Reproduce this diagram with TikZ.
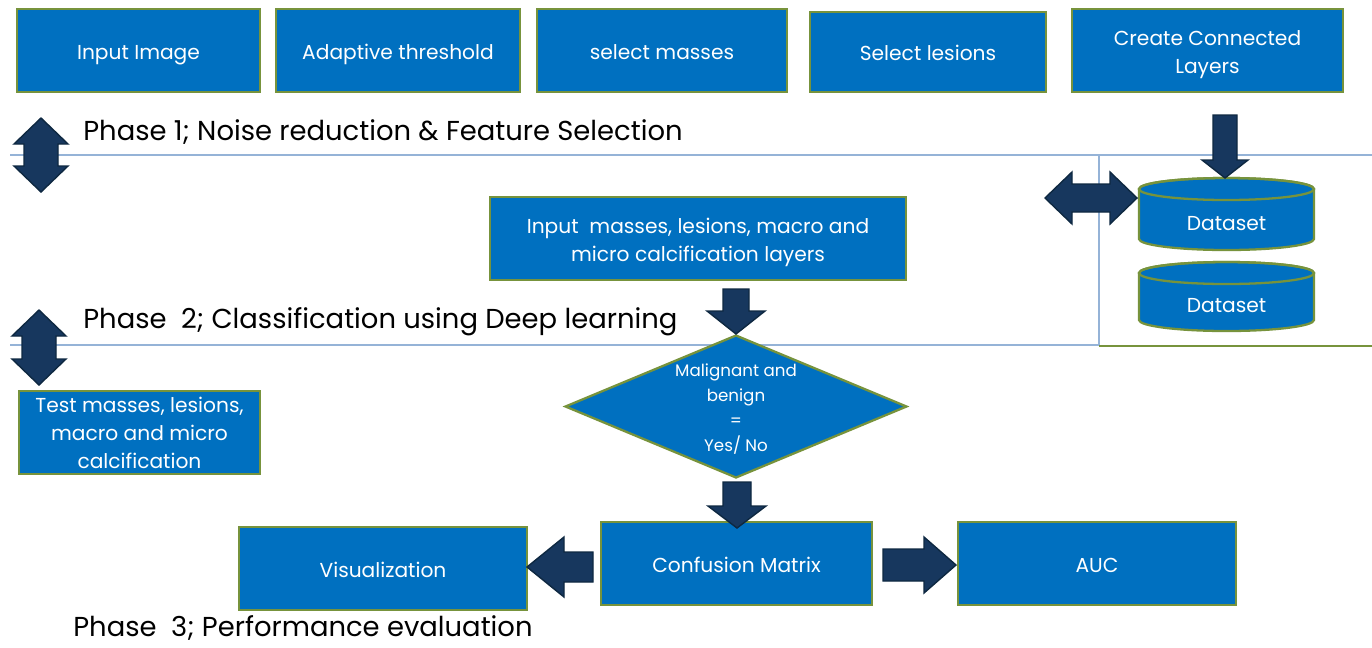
\documentclass[tikz,border=0pt]{standalone}
\usepackage{fontspec}
\setmainfont{Poppins}
\usetikzlibrary{shapes.geometric}
\definecolor{boxblue}{HTML}{0070C0}
\definecolor{boxgreen}{HTML}{77933C}
\definecolor{navy}{HTML}{17375E}
\definecolor{navyedge}{HTML}{0E2841}
\definecolor{linec}{HTML}{95B3D7}
\newcommand\VDouble[7]{% cx, top, bottom, H, S, L
  \filldraw[blk] (#1,#2) -- (#1+#4,#2+#6) -- (#1+#5,#2+#6) -- (#1+#5,#3-#6) -- (#1+#4,#3-#6) -- (#1,#3) -- (#1-#4,#3-#6) -- (#1-#5,#3-#6) -- (#1-#5,#2+#6) -- (#1-#4,#2+#6) -- cycle;}
\newcommand\HDouble[6]{% cy, left, right, H, S, L
  \filldraw[blk] (#2,#1) -- (#2+#6,#1-#4) -- (#2+#6,#1-#5) -- (#3-#6,#1-#5) -- (#3-#6,#1-#4) -- (#3,#1) -- (#3-#6,#1+#4) -- (#3-#6,#1+#5) -- (#2+#6,#1+#5) -- (#2+#6,#1+#4) -- cycle;}
\newcommand\VDown[6]{% cx, top, tip, H, S, L
  \filldraw[blk] (#1-#5,#2) -- (#1+#5,#2) -- (#1+#5,#3-#6) -- (#1+#4,#3-#6) -- (#1,#3) -- (#1-#4,#3-#6) -- (#1-#5,#3-#6) -- cycle;}
\newcommand\HArr[6]{% cy, tail, tip, H, S, L
  \filldraw[blk] (#2,#1-#5) -- (#3-#6,#1-#5) -- (#3-#6,#1-#4) -- (#3,#1) -- (#3-#6,#1+#4) -- (#3-#6,#1+#5) -- (#2,#1+#5) -- cycle;}
\newcommand\topstrut[1]{\rule{0pt}{#1}}
\begin{document}
\begin{tikzpicture}[x=0.02cm,y=-0.02cm,
  box/.style={draw=boxgreen, fill=boxblue, line width=1.3pt, text=white, align=center,
    inner sep=0pt, font=\fontsize{11.5}{16}\selectfont},
  one/.style={text height=10pt, text depth=0pt},
  blk/.style={fill=navy, draw=navyedge, line width=0.8pt, line join=miter},
  phase/.style={anchor=west, inner sep=0pt, font=\fontsize{15.6}{18}\selectfont, text=black},
  sep/.style={draw=linec, line width=0.7pt}]
\useasboundingbox (0,0) rectangle (1372,647);

% separator lines
\draw[sep] (10,155) -- (1372,155);
\draw[sep] (1099,155) -- (1099,345);
\draw[sep] (10,345) -- (1099,345);
\draw[draw=boxgreen, line width=1pt] (1099,346) -- (1372,346);

% top row
\node[box, one, minimum width=4.86cm, minimum height=1.66cm] (inimg) at (138.5,50.5) {Input Image};
\node[box, one, minimum width=4.88cm, minimum height=1.66cm] (adapt) at (398,50.5) {Adaptive threshold};
\node[box, one, minimum width=5.0cm, minimum height=1.66cm] (selm) at (662,50.5) {select masses};
\node[box, one, minimum width=4.72cm, minimum height=1.6cm] (sell) at (928,52) {Select lesions};
\node[box, minimum width=5.42cm, minimum height=1.66cm] (ccl) at (1207.5,50.5) {\topstrut{13.5pt}Create Connected\\Layers};

% phase labels
\node[phase] (ph1) at (83,132) {Phase 1; Noise reduction \& Feature Selection};
\node[phase] (ph2) at (83,322) {Phase\ \ 2; Classification using Deep learning};
\node[phase] (ph3) at (73,628) {Phase\ \ 3; Performance evaluation};

% datasets
\foreach \yt/\yb in {189/239, 273/320}{
  \filldraw[draw=boxgreen, fill=boxblue, line width=1.3pt]
    (1139,\yt) -- (1139,\yb) arc[start angle=180, end angle=0, x radius=87.5, y radius=11]
    -- (1314,\yt) arc[start angle=0, end angle=-180, x radius=87.5, y radius=11] -- cycle;
  \draw[draw=boxgreen, line width=1.3pt] (1226.5,\yt) ellipse[x radius=87.5, y radius=11];
}
\node[text=white, one, font=\fontsize{11.5}{14}\selectfont] (ds1) at (1226.5,222) {Dataset};
\node[text=white, one, font=\fontsize{11.5}{14}\selectfont] (ds2) at (1226.5,304) {Dataset};

% middle
\node[box, minimum width=8.32cm, minimum height=1.66cm] (inm) at (698,238.5) {\topstrut{13pt}Input\ \ masses, lesions, macro and\\micro calcification layers};
\node[diamond, draw=boxgreen, fill=boxblue, line width=1.3pt, inner sep=0pt, minimum width=6.84cm, minimum height=2.86cm] (dia) at (736,406.5) {};
\node[text=white, align=center, font=\fontsize{9.5}{14.3}\selectfont] (diat) at (736,409) {Malignant and\\benign\\=\\Yes/ No};
\node[box, minimum width=4.82cm, minimum height=1.66cm] (test) at (139.5,432.5) {Test masses, lesions,\\macro and micro\\calcification};

% bottom row
\node[box, one, minimum width=5.42cm, minimum height=1.66cm] (conf) at (736.5,563.5) {Confusion Matrix};
\node[box, one, minimum width=5.76cm, minimum height=1.66cm] (vis) at (383,568.5) {Visualization};
\node[box, one, minimum width=5.56cm, minimum height=1.66cm] (auc) at (1097,563.5) {AUC};

% block arrows
\VDouble{41}{118}{192}{27}{17}{26}{}
\VDouble{39}{310}{385}{27}{17}{26}{}
\HDouble{198}{1045}{1137}{26}{14}{27}
\VDown{1225}{115}{178}{23}{12}{18}
\VDown{736}{289}{334}{29}{13}{23}
\VDown{737}{482}{528}{29}{14}{22}
\HArr{567}{593}{527}{30}{15}{-37}
\HArr{565}{883}{956}{28}{16}{32}
\end{tikzpicture}
\end{document}
